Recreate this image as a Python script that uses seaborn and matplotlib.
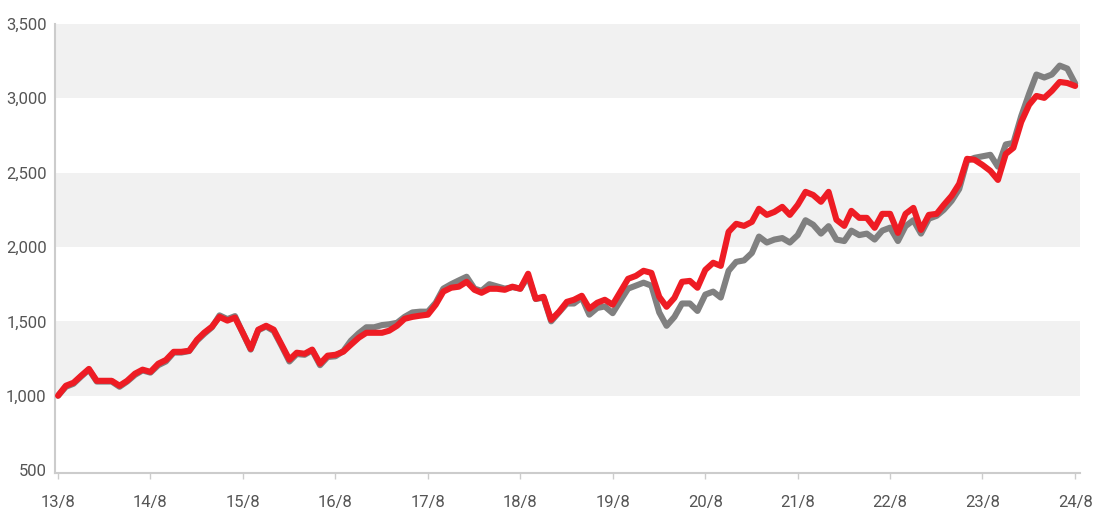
import pandas as pd
import seaborn as sns
import matplotlib.pyplot as plt

# monthly values, Aug 2013 - Aug 2024
red_values = [
    1000, 1067, 1087, 1135, 1180, 1100, 1100, 1100, 1067, 1100, 1148, 1175,
    1160, 1215, 1240, 1295, 1295, 1302, 1376, 1423, 1464, 1530, 1505, 1525,
    1423, 1315, 1444, 1470, 1444, 1343, 1242, 1289, 1282, 1310, 1215, 1269,
    1275, 1296, 1343, 1390, 1423, 1423, 1423, 1437, 1470, 1517, 1530, 1538,
    1545, 1612, 1700, 1726, 1733, 1766, 1712, 1692, 1719, 1719, 1712, 1733,
    1719, 1820, 1652, 1665, 1510, 1564, 1631, 1645, 1672, 1585, 1625, 1645,
    1612, 1700, 1786, 1806, 1840, 1826, 1665, 1598, 1658, 1766, 1772, 1726,
    1846, 1894, 1873, 2102, 2156, 2142, 2169, 2257, 2216, 2236, 2270, 2216,
    2283, 2371, 2350, 2304, 2371, 2183, 2142, 2243, 2196, 2196, 2129, 2223,
    2223, 2095, 2223, 2263, 2115, 2216, 2223, 2283, 2344, 2425, 2593, 2586,
    2552, 2512, 2451, 2626, 2667, 2841, 2956, 3016, 3003, 3050, 3110, 3103,
    3083,
]
gray_values = [
    1000, 1060, 1080, 1130, 1175, 1095, 1095, 1095, 1060, 1095, 1140, 1170,
    1155, 1205, 1230, 1290, 1290, 1300, 1370, 1415, 1460, 1540, 1515, 1535,
    1420, 1310, 1440, 1465, 1435, 1335, 1230, 1280, 1275, 1305, 1205, 1260,
    1265, 1300, 1370, 1420, 1460, 1460, 1475, 1480, 1490, 1530, 1560, 1565,
    1565, 1625, 1720, 1750, 1775, 1800, 1720, 1705, 1750, 1735, 1720, 1730,
    1720, 1800, 1650, 1660, 1500, 1560, 1620, 1620, 1660, 1545, 1590, 1600,
    1555, 1640, 1720, 1740, 1760, 1740, 1560, 1470, 1530, 1620, 1620, 1570,
    1680, 1700, 1660, 1840, 1900, 1910, 1960, 2070, 2030, 2050, 2060, 2030,
    2080, 2180, 2150, 2090, 2140, 2050, 2040, 2110, 2080, 2090, 2050, 2110,
    2130, 2040, 2140, 2180, 2090, 2190, 2210, 2250, 2310, 2390, 2580, 2600,
    2610, 2620, 2540, 2690, 2700, 2880, 3030, 3160, 3140, 3160, 3220, 3200,
    3100,
]
dates = pd.date_range('2013-08-01', periods=len(red_values), freq='MS')
tick_dates = pd.date_range('2013-08-01', '2024-08-01', freq='12MS')
tick_labels = [f'{d.year % 100}/{d.month}' for d in tick_dates]
y_ticks = [500, 1000, 1500, 2000, 2500, 3000, 3500]
bands = [(1000, 1500), (2000, 2500), (3000, 3500)]

df = pd.DataFrame({'date': dates, 'red': red_values, 'gray': gray_values})

sns.set_style('white')
plt.rcParams['font.family'] = ['Roboto', 'DejaVu Sans']

fig = plt.figure(figsize=(11, 5.2), dpi=100)
ax = fig.add_axes([0.05, 0.0904, 0.932, 0.8635])

for lo, hi in bands:
    ax.axhspan(lo, hi, color='#f1f1f1', lw=0, zorder=0)

sns.lineplot(data=df, x='date', y='gray', color='#808080', lw=4.4, ax=ax, zorder=2)
sns.lineplot(data=df, x='date', y='red', color='#ee1c24', lw=4.4, ax=ax, zorder=3)

ax.set_ylim(480, 3500)
ax.set_xlim(dates[0] - pd.Timedelta(days=12), dates[-1] + pd.Timedelta(days=20))
ax.set_yticks(y_ticks)
ax.set_yticklabels([f'{v:,}' for v in y_ticks])
ax.set_xticks(tick_dates)
ax.set_xticklabels(tick_labels)
ax.set_xlabel('')
ax.set_ylabel('')

for side in ['top', 'right']:
    ax.spines[side].set_visible(False)
for side in ['left', 'bottom']:
    ax.spines[side].set_color('#cccccc')
    ax.spines[side].set_linewidth(1.5)

ax.tick_params(axis='x', length=4, width=1, color='#cccccc', colors='#555555',
               labelsize=12, pad=12, bottom=True)
ax.tick_params(axis='y', length=0, colors='#555555', labelsize=12, pad=6)
for t in ax.get_xticklabels() + ax.get_yticklabels():
    t.set_color('#555555')

fig.savefig('out.png', dpi=100)
